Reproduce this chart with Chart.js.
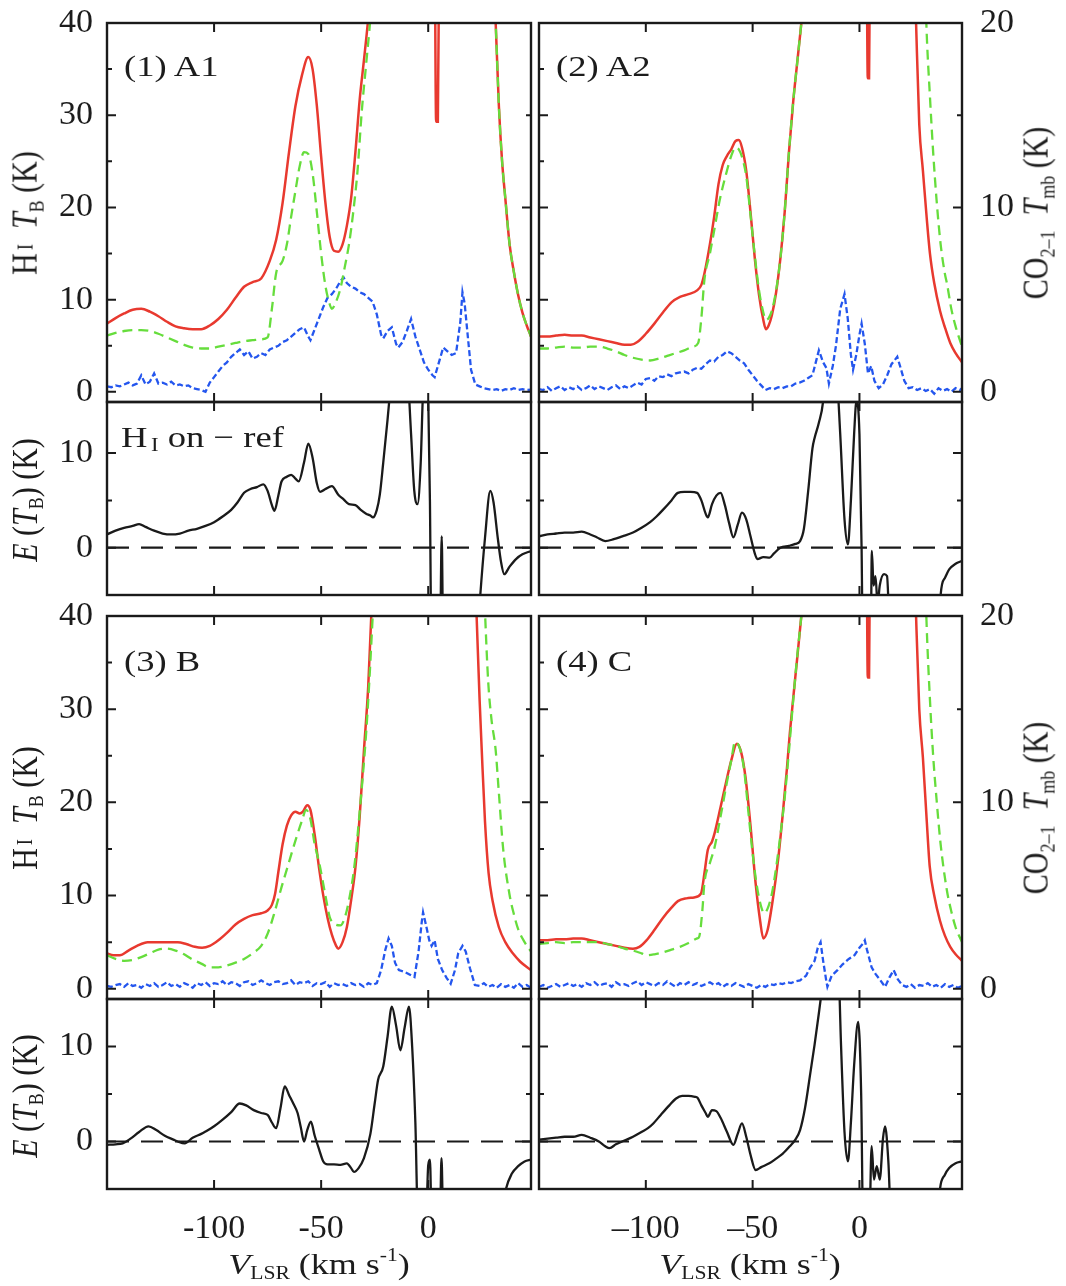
<!DOCTYPE html>
<html>
<head>
<meta charset="utf-8">
<script src="https://cdn.jsdelivr.net/npm/chart.js@4.4.1/dist/chart.umd.min.js"></script>
<style>
body{margin:0;background:#fff;}
#fig{position:relative;width:1066px;height:1286px;overflow:hidden;font-family:"Liberation Serif",serif;color:#1c1c1c;}
canvas{position:absolute;}
.lab{position:absolute;white-space:nowrap;font-size:30px;line-height:1;z-index:2;}
.rot{transform:translate(-50%,-50%) rotate(-90deg) scaleY(1.2);}
.hz{transform:translate(-50%,-50%) scaleX(1.2);}
.tl{transform-origin:left center;transform:translateY(-50%) scaleX(1.22);}
sub{font-size:0.6em;vertical-align:-0.3em;}
sup{font-size:0.6em;vertical-align:0.7em;}
.sc{font-size:0.62em;vertical-align:0.2em;margin-left:3px;}
.sb{font-size:0.62em;vertical-align:-0.2em;margin-left:3px;}
</style>
</head>
<body>
<div id="fig">
  <div class="lab tl" style="left:124px;top:66px">(1) A1</div>
  <div class="lab tl" style="left:556px;top:66px">(2) A2</div>
  <div class="lab tl" style="left:124px;top:661px">(3) B</div>
  <div class="lab tl" style="left:556px;top:661px">(4) C</div>
  <div class="lab tl" style="left:121px;top:438px">H<span class="sb">I</span> on &minus; ref</div>

  <div class="lab rot" style="left:27px;top:213px">H<span class="sc">I</span>&nbsp;&nbsp;<i>T</i><sub>B</sub>&nbsp;(K)</div>
  <div class="lab rot" style="left:27px;top:808px">H<span class="sc">I</span>&nbsp;&nbsp;<i>T</i><sub>B</sub>&nbsp;(K)</div>
  <div class="lab rot" style="left:27px;top:500px"><i>E</i>&nbsp;(<i>T</i><sub>B</sub>)&nbsp;(K)</div>
  <div class="lab rot" style="left:27px;top:1096px"><i>E</i>&nbsp;(<i>T</i><sub>B</sub>)&nbsp;(K)</div>
  <div class="lab rot" style="left:1038px;top:213px">CO<sub>2&ndash;1</sub>&nbsp;&nbsp;<i>T</i><sub>mb</sub>&nbsp;(K)</div>
  <div class="lab rot" style="left:1038px;top:808px">CO<sub>2&ndash;1</sub>&nbsp;&nbsp;<i>T</i><sub>mb</sub>&nbsp;(K)</div>

  <div class="lab hz" style="left:319px;top:1264px"><i>V</i><sub>LSR</sub> (km s<sup>-1</sup>)</div>
  <div class="lab hz" style="left:750px;top:1264px"><i>V</i><sub>LSR</sub> (km s<sup>-1</sup>)</div>
</div>

<script>
/* ============================================================
   AXES
============================================================ */

const velMin=-150, velMax=48;
const velTicks=[-100,-50,0];
const hiTicks=[0,10,20,30,40], hiMinor=[5,15,25,35];
const coTicks=[0,10,20], coMinor=[5,15];
const eTicks=[0,10], eMinor=[5];

/* ============================================================
   (1) A1   [velocity, value]
============================================================ */

const a1Red=[[-150,7.4],[-146,8.0],[-142,8.5],[-138,8.9],[-134,9.0],[-130,8.7],[-126,8.2],[-122,7.6],[-118,7.1],[-114,6.9],
[-110,6.8],[-106,6.8],[-102,7.2],[-98,7.9],[-94,8.9],[-90,10.2],[-86,11.4],[-82,11.9],[-78,12.3],[-74,14.2],
[-71,16.5],[-68,20.5],[-65,26],[-62,31],[-59,34.3],[-56,36.3],[-54,35],[-52,31],[-50,25.5],[-48,20.5],
[-46,16.8],[-44,15.3],[-42,15.2],[-40,16.0],[-38,18],[-36,21],[-34,26],[-32,31.7],[-30,36],[-28,40.5],
[-26,46],[-20,70],[0,90],[2.8,60],[3.7,29.3],[4.5,29.3],[5.5,60],[10,100],[28,60],[30,47],
[31.5,40],[33,31],[34.5,25],[36,21],[38,16],[40,13],[42,10.5],[44,8.6],[46,7.2],[48,6.0]];

const a1Ref=[[-150,6.1],[-146,6.4],[-142,6.6],[-138,6.7],[-134,6.7],[-130,6.6],[-126,6.3],[-122,5.9],[-118,5.5],[-114,5.1],
[-110,4.8],[-106,4.7],[-102,4.7],[-98,4.9],[-94,5.1],[-90,5.3],[-86,5.5],[-82,5.6],[-78,5.7],[-75,5.9],
[-73,9],[-71,12.9],[-68,14.2],[-66,16],[-64,19],[-62,21.8],[-60,24.5],[-58,26],[-56,25.8],[-54,23.7],
[-52,19.5],[-50,15],[-48,11.5],[-46,9.5],[-45,9.0],[-43,9.8],[-41,11.2],[-39,13.5],[-37,16],[-35,19.5],
[-33,24],[-31,30.5],[-29,35.5],[-27,40.5],[-25,47],[-18,75],[0,100],[20,80],[28,55],[30,47],
[31.5,40],[33,31],[34.5,25],[36,21],[38,16],[40,13],[42,10.5],[44,8.6],[46,7.2],[48,6.0]];

const a1CO=[[-150,0.3],[-148,0.25],[-146,0.35],[-144,0.3],[-142,0.4],[-140,0.5],[-138,0.35],[-136,0.45],[-134,0.9],[-132,0.4],
[-130,0.55],[-128,1.0],[-126,0.45],[-124,0.5],[-122,0.4],[-120,0.55],[-118,0.35],[-116,0.4],[-114,0.3],[-112,0.35],
[-110,0.2],[-108,0.15],[-106,0.1],[-104,0.0],[-102,0.5],[-100,0.8],[-98,1.1],[-96,1.4],[-94,1.6],[-92,1.9],
[-90,2.1],[-88,2.3],[-86,2.0],[-84,2.2],[-82,1.8],[-80,1.9],[-78,2.1],[-76,2.0],[-74,2.3],[-72,2.4],
[-70,2.5],[-68,2.7],[-66,2.8],[-64,3.0],[-62,3.2],[-60,3.4],[-58,3.5],[-56,3.0],[-55,2.8],[-53,3.4],
[-51,4.0],[-49,4.6],[-47,5.1],[-45,5.3],[-43,5.6],[-41,6.0],[-39.5,6.2],[-38,5.9],[-36,5.7],[-34,5.6],
[-32,5.4],[-30,5.3],[-28,5.1],[-26,4.9],[-24,4.2],[-22,3.1],[-21,2.9],[-19,3.3],[-17,3.5],[-15,2.6],
[-14,2.4],[-12,2.7],[-10,3.3],[-8,3.95],[-6,3.0],[-4,2.3],[-2,1.6],[0,1.2],[2,0.9],[3,0.8],
[5,1.6],[7,2.4],[9,2.2],[11,2.0],[13,2.1],[15,3.8],[16,5.4],[17,4.8],[18.5,3.0],[20,1.2],
[22,0.4],[24,0.3],[26,0.2],[28,0.15],[30,0.1],[32,0.15],[34,0.05],[36,0.15],[38,0.1],[40,0.2],
[42,0.1],[44,0.15],[46,0.1],[48,0.12]];

const a1Diff=[[-150,1.4],[-146,1.8],[-142,2.1],[-138,2.3],[-135,2.5],[-132,2.2],[-128,1.8],[-124,1.5],[-120,1.4],[-116,1.5],
[-112,1.8],[-108,2.0],[-104,2.3],[-100,2.7],[-96,3.3],[-92,4.0],[-89,4.8],[-86,5.8],[-83,6.2],[-80,6.4],
[-77,6.7],[-75,6.0],[-73,4.5],[-71.8,3.9],[-70,5.5],[-68.5,7.0],[-66,7.5],[-64,7.7],[-62,7.3],[-60.5,7.0],
[-58,9.0],[-56,11.0],[-54,9.5],[-52,6.8],[-50.5,5.9],[-48,6.2],[-45,6.5],[-42,5.6],[-39.5,5.1],[-37,4.6],
[-34,4.5],[-31.5,4.0],[-29,3.6],[-27,3.4],[-25.8,3.2],[-24,4.0],[-22.6,5.6],[-21,9],[-19,13.5],[-18,16],
[-14,25],[-10,20],[-8,12],[-6.5,6],[-5,4.6],[-3.5,9],[-2.5,16],[-1,20],[0,16],[0.8,5],
[1.5,-10],[5.5,-10],[6.3,1.2],[7,-10],[20,-20],[24,-6],[26.5,1],[29,6.0],[30.5,4.8],[32.5,1],
[34,-1.5],[35.5,-2.8],[38,-2.0],[41,-1.2],[44,-0.7],[48,-0.35]];

/* ============================================================
   (2) A2
============================================================ */

const a2Red=[[-150,6.0],[-146,6.0],[-142,6.1],[-138,6.2],[-134,6.1],[-130,6.1],[-126,5.9],[-122,5.7],[-118,5.5],[-114,5.3],
[-110,5.1],[-107,5.1],[-104,5.4],[-100,6.3],[-96,7.4],[-92,8.6],[-88,9.7],[-84,10.3],[-80,10.6],[-76,11.0],
[-74,11.6],[-72.6,12.8],[-70,16],[-68,19],[-66,22.5],[-64,24.6],[-62,25.6],[-60,26.3],[-58,27.2],[-56.5,27.3],
[-55,26.5],[-53,24],[-51,19.5],[-49,14.5],[-47,10.5],[-45,7.8],[-43.8,6.8],[-42.5,7.2],[-41,8.3],[-39,10.8],
[-37,14.5],[-35,19.5],[-33,26],[-31,31.5],[-29,36],[-27,40.5],[-25,46],[-18,70],[0,95],[3.1,60],
[3.9,34],[4.5,34],[5.3,60],[10,100],[24,60],[26.5,40],[28,29],[29.7,24],[31.5,18.8],[33,15],
[35,11.8],[37.7,8.8],[40,7.0],[42.5,5.3],[45,4.2],[48,3.2]];

const a2Ref=[[-150,4.7],[-146,4.7],[-142,4.8],[-138,4.9],[-134,4.8],[-130,4.8],[-126,4.9],[-122,4.9],[-118,4.7],[-114,4.4],
[-110,4.0],[-106,3.7],[-102,3.5],[-98,3.4],[-94,3.6],[-90,3.9],[-86,4.2],[-82,4.5],[-78,4.9],[-75.5,5.3],
[-74,8],[-72.6,12.1],[-70,15],[-68,17.5],[-65.4,20.8],[-62,24],[-60,25.6],[-58,26.5],[-56.5,26.3],[-55,25.5],
[-53,23.4],[-51,19.2],[-49,14.8],[-47,11.0],[-45,8.6],[-43.8,7.8],[-42.5,8.0],[-41,8.8],[-39,11],[-37,14.5],
[-35,19.5],[-33,26],[-31,31.5],[-29,36],[-27,40.5],[-25,46],[-18,70],[0,100],[20,90],[29,60],
[31.3,40],[33,32],[34.5,26],[36.1,20.8],[38,16],[40,12.8],[41,11.7],[43,9],[45,7.1],[48,4.9]];

const a2CO=[[-150,0.15],[-148,0.1],[-146,0.25],[-144,0.05],[-142,0.2],[-140,0.3],[-138,0.1],[-136,0.25],[-134,0.15],[-132,0.3],
[-130,0.1],[-128,0.2],[-126,0.35],[-124,0.15],[-122,0.3],[-120,0.2],[-118,0.1],[-116,0.25],[-114,0.35],[-112,0.15],
[-110,0.3],[-108,0.2],[-106,0.35],[-104,0.5],[-102,0.4],[-100,0.7],[-98,0.75],[-96,0.6],[-94,0.85],[-92,0.8],
[-90,0.95],[-88,0.85],[-86,1.0],[-84,1.05],[-82,1.1],[-80,1.0],[-78,1.2],[-76,1.3],[-74,1.25],[-72,1.5],
[-70,1.7],[-68,1.65],[-66,1.9],[-64,2.0],[-62,2.2],[-60,2.1],[-58,1.9],[-56,1.7],[-54,1.55],[-52,1.2],
[-50,0.9],[-48,0.6],[-46,0.35],[-44,0.1],[-42,0.2],[-40,0.15],[-38,0.25],[-36,0.2],[-34,0.3],[-32,0.3],
[-30,0.45],[-28,0.5],[-26,0.6],[-24,0.75],[-22,0.9],[-20,1.8],[-19,2.25],[-17,1.6],[-15.5,1.3],[-14.3,0.45],
[-12.5,1.4],[-11,2.5],[-9,4.5],[-7,5.3],[-5.5,4.0],[-4,2.0],[-3,1.2],[-1.5,2.0],[0,3.1],[1,3.7],
[2.5,2.6],[4,1.0],[5.5,1.4],[7,0.6],[9,0.2],[11,0.4],[13,0.9],[15,1.5],[17.7,1.9],[19,1.4],
[21,0.6],[23,0.2],[25,0.25],[27,0.1],[29,0.2],[31,0.05],[33,0.15],[35,-0.1],[37,0.2],[39,0.05],
[41,0.15],[43,0.0],[45,0.2],[47,0.1],[48,0.2]];

const a2Diff=[[-150,1.2],[-146,1.4],[-142,1.5],[-138,1.6],[-134,1.6],[-130,1.7],[-126,1.4],[-123,1.1],[-119,0.7],[-115,0.9],
[-111,1.2],[-106,1.6],[-102,2.1],[-98,2.7],[-95,3.3],[-92,4.0],[-88,5.0],[-85,5.8],[-82,5.9],[-79,5.9],
[-76,5.8],[-74,5.0],[-72,3.6],[-71,3.2],[-69,4.6],[-67,5.5],[-65,5.8],[-63,4.5],[-61,2.6],[-59,1.1],
[-57,2.4],[-55,3.7],[-53,3.0],[-51,1.2],[-49,-0.6],[-47.8,-1.2],[-45,-1.0],[-42,-1.05],[-40,-0.6],[-37,0.0],
[-33,0.2],[-30,0.4],[-27.8,0.7],[-26,2.0],[-24,6.0],[-22,10.5],[-21,11.6],[-19,13.2],[-17,15.5],[-14,25],
[-11,20],[-9,12],[-7,3],[-5.4,0.35],[-4,5],[-2.5,12],[-1.4,15.5],[0,12],[1,0],[2,-20],
[5,-20],[5.8,-0.35],[6.6,-4],[7.5,-3],[8.5,-6],[9.5,-4],[11.5,-2.8],[12.9,-3.0],[14,-8],[20,-20],
[36,-20],[38,-5],[40,-3.2],[42,-2.3],[45,-1.7],[48,-1.4]];

/* ============================================================
   (3) B
============================================================ */

const bRed=[[-150,3.8],[-147,3.6],[-144,3.6],[-140,4.1],[-136,4.6],[-131,5.0],[-127,5.0],[-122,5.0],[-117,5.0],[-113,4.8],
[-109,4.5],[-105.6,4.4],[-102,4.6],[-98,5.2],[-94,6.0],[-90,6.9],[-86,7.5],[-82,7.9],[-78,8.1],[-75,8.4],
[-73,9.0],[-71.5,10.2],[-70,12.5],[-68,15.5],[-66,17.5],[-64,18.6],[-62,19.0],[-60,18.8],[-58.5,19.0],[-56.5,19.7],
[-55,19.2],[-53,16.5],[-51,13],[-49,10],[-47,7.6],[-45,5.8],[-43,4.6],[-42,4.3],[-40,5.0],[-38,6.6],
[-36,9.5],[-34,13],[-32,18.5],[-30,25.6],[-28,32.5],[-26.5,40.5],[-25,47],[-15,80],[0,100],[15,80],
[21,50],[22.6,40],[24,31],[25,25.6],[26.5,18],[28.2,12.4],[30,9.5],[33,6.6],[36,5.0],[39.5,3.8],
[43,2.9],[48,2.0]];

const bRef=[[-150,3.6],[-146,3.2],[-142,3.0],[-138,3.1],[-134,3.4],[-130,3.8],[-126,4.2],[-122,4.3],[-118,4.1],[-114,3.7],
[-110.5,3.2],[-106,2.7],[-102,2.3],[-98,2.3],[-94,2.5],[-90,2.8],[-86,3.2],[-82,3.8],[-78,4.6],[-75,5.9],
[-72,8],[-68.5,10.9],[-65,13.6],[-62,15.9],[-59,18],[-57,19.2],[-55,18.2],[-53,15.5],[-50.8,13.4],[-48,10],
[-46,7.7],[-44,7.0],[-41,6.8],[-39,7.6],[-37,9.5],[-34.5,13.1],[-32,19],[-29,27.4],[-27.5,33],[-25.8,40.5],
[-24,48],[-15,80],[0,100],[20,80],[25,50],[26.6,40],[28,33],[29.5,29],[31.5,25.6],[33,21],
[35,15],[37.9,10.2],[40,8],[42,6.4],[45,5.0],[48,4.0]];

const bCO=[[-150,0.15],[-148,0.1],[-146,0.2],[-144,0.25],[-142,0.1],[-140,0.3],[-138,0.15],[-136,0.2],[-134,0.05],[-132,0.25],
[-130,0.15],[-128,0.3],[-126,0.1],[-124,0.2],[-122,0.35],[-120,0.15],[-118,0.25],[-116,0.1],[-114,0.3],[-112,0.2],
[-110,0.05],[-108,0.3],[-106,0.2],[-104,0.35],[-102,0.15],[-100,0.3],[-98,0.25],[-96,0.4],[-94,0.2],[-92,0.35],
[-90,0.3],[-88,0.15],[-86,0.35],[-84,0.4],[-82,0.2],[-80,0.3],[-78,0.45],[-76,0.3],[-74,0.2],[-72,0.35],
[-70,0.4],[-68,0.25],[-66,0.3],[-64,0.45],[-62,0.2],[-60,0.35],[-58,0.3],[-56,0.4],[-54,0.15],[-52,0.3],
[-50,0.25],[-48,0.35],[-46,0.1],[-44,0.3],[-42,0.2],[-40,0.25],[-38,0.15],[-36,0.3],[-34,0.2],[-32,0.25],
[-30,0.1],[-28,0.3],[-26,0.2],[-24,0.3],[-22,1.0],[-20,2.1],[-18.5,2.7],[-17,2.3],[-15.5,1.4],[-13.7,1.0],
[-11,0.9],[-8.5,0.75],[-6.4,0.63],[-4.5,2.0],[-3,3.6],[-2.4,4.1],[-1,3.4],[0.5,2.6],[1.6,2.3],[3,2.6],
[4.5,1.6],[6.5,1.0],[8.5,0.6],[10.5,0.27],[12.5,1.0],[14,1.9],[16,2.3],[17.5,2.0],[19.5,1.1],[21.8,0.2],
[24,0.15],[26,0.3],[28,0.1],[30,0.2],[32,0.05],[34,0.25],[36,0.1],[38,0.2],[40,0.05],[42,0.3],
[44,0.1],[46,0.2],[48,0.05]];

const bDiff=[[-150,-0.35],[-146,-0.3],[-142.7,-0.2],[-139,0.3],[-135,1.0],[-130.6,1.6],[-127,1.2],[-123,0.6],[-119,0.2],[-117,0.0],
[-113.7,-0.2],[-110,0.4],[-106,0.8],[-104,1.05],[-100,1.6],[-96,2.3],[-92,3.1],[-88,4.0],[-85,3.8],[-81.5,3.3],
[-78,3.0],[-75,2.8],[-73,2.0],[-71,1.4],[-69,3.5],[-67,5.8],[-65,4.9],[-63,4.0],[-61,3.0],[-59.5,1.5],
[-58,0.0],[-56.5,1.2],[-54.8,2.1],[-53,0.6],[-51,-0.8],[-49,-2.1],[-47,-2.4],[-44,-2.4],[-41,-2.45],[-38,-2.3],
[-36,-2.8],[-34.7,-3.2],[-32.5,-2.8],[-30,-1.75],[-27,0.8],[-25,4.0],[-23.4,6.5],[-21,7.9],[-19,11],[-17,14.2],
[-15,12.2],[-13,9.6],[-11,12],[-9,14.2],[-7.5,10],[-6,2],[-4.8,-8],[-1,-8],[0,-2.5],[0.8,-1.9],
[1.6,-8],[5.5,-8],[6.2,-1.75],[7,-8],[34,-8],[36.3,-5],[39,-3.4],[42,-2.6],[45,-2.1],[48,-1.9]];

/* ============================================================
   (4) C
============================================================ */

const cRed=[[-150,5.2],[-146,5.2],[-142,5.3],[-138,5.3],[-134,5.4],[-130,5.4],[-126,5.2],[-122,5.0],[-118,4.8],[-114,4.6],
[-110,4.4],[-106,4.3],[-103,4.5],[-99.7,5.2],[-96,6.3],[-92,7.6],[-88,8.7],[-85,9.4],[-81,9.7],[-77.4,9.8],
[-74.2,10.2],[-72.5,12.5],[-71,14.9],[-69,15.8],[-67.8,16.7],[-65,19.5],[-62.2,22.4],[-60,24.5],[-57.4,26.3],[-55.5,25.5],
[-53.4,22.8],[-51,17.5],[-48.6,11.3],[-46.5,7.3],[-45,5.4],[-43,6.3],[-40.6,9.5],[-38,14],[-36,18.5],[-34,23.5],
[-32.6,27.4],[-30,33.5],[-27,40.5],[-25,46],[-18,70],[0,95],[3.1,60],[3.9,33.4],[4.5,33.4],[5.3,60],
[10,100],[24,60],[26.5,40],[28,30],[29.7,24.8],[31.5,18],[32.9,13.1],[35,10],[37.7,7.3],[40,5.7],
[42.5,4.5],[45,3.7],[48,3.0]];

const cRef=[[-150,4.8],[-146,4.9],[-142,5.0],[-138,4.9],[-134,5.0],[-130,5.0],[-126,5.0],[-122,5.0],[-118,4.8],[-114,4.6],
[-110,4.3],[-106,4.1],[-102,3.8],[-99.7,3.6],[-96,3.7],[-92,3.9],[-88,4.2],[-84,4.5],[-80,4.9],[-76,5.4],
[-75,5.6],[-73.5,8.5],[-72.6,11.3],[-70,13.5],[-67.8,15.2],[-65,18.5],[-62,22.2],[-60,24.5],[-58.2,26.5],[-56,25.8],
[-54,23.5],[-52,19],[-50,14.5],[-48,11],[-46,8.8],[-44.6,8.1],[-43,8.6],[-41,10.2],[-39,13],[-37,16.5],
[-35,20.5],[-33,25.5],[-31,31],[-29,36],[-27,40.5],[-25,46],[-18,70],[0,100],[20,90],[29,60],
[31.3,40],[33,31],[34.5,25],[36.1,20.3],[38,15.5],[40.9,10.6],[43,8.3],[45,6.6],[48,5.0]];

const cCO=[[-150,0.1],[-148,0.2],[-146,0.05],[-144,0.15],[-142,0.25],[-140,0.1],[-138,0.2],[-136,0.3],[-134,0.15],[-132,0.25],
[-130,0.1],[-128,0.3],[-126,0.2],[-124,0.35],[-122,0.15],[-120,0.25],[-118,0.3],[-116,0.1],[-114,0.35],[-112,0.2],
[-110,0.25],[-108,0.15],[-106,0.3],[-104,0.4],[-102,0.2],[-100,0.35],[-98,0.25],[-96,0.15],[-94,0.3],[-92,0.2],
[-90,0.4],[-88,0.25],[-86,0.1],[-84,0.3],[-82,0.2],[-80,0.35],[-78,0.2],[-76,0.3],[-74,0.15],[-72,0.25],
[-70,0.35],[-68,0.2],[-66,0.3],[-64,0.1],[-62,0.25],[-60,0.15],[-58,0.3],[-56,0.2],[-54,0.1],[-52,0.25],
[-50,0.15],[-48,0.05],[-46,0.2],[-44,0.1],[-42,0.25],[-40,0.2],[-38,0.3],[-36,0.25],[-34,0.35],[-32,0.3],
[-30,0.4],[-27.8,0.45],[-25,0.7],[-23,1.15],[-21,1.5],[-19.5,2.2],[-18.2,2.5],[-17,1.5],[-15.5,0.4],[-15,0.1],
[-13,0.7],[-10.3,1.0],[-8,1.3],[-5,1.6],[-2.3,1.8],[0,2.2],[1.5,2.4],[2.5,2.6],[3.5,2.1],[5.7,1.15],
[7.5,0.8],[9.5,0.5],[12,0.1],[14,0.6],[16,1.0],[18,0.5],[20,0.2],[22,0.1],[24,0.25],[26,0.05],
[28,0.2],[30,0.15],[32,0.3],[34,0.1],[36,0.2],[38,0.05],[40,0.25],[42,0.1],[44,0.2],[46,0.05],[48,0.15]];

const cDiff=[[-150,0.2],[-146,0.3],[-142,0.4],[-138,0.5],[-134,0.5],[-130,0.7],[-126,0.4],[-122,0.0],[-119,-0.5],[-117,-0.7],
[-114,-0.3],[-110,0.1],[-106,0.5],[-102,1.0],[-99,1.4],[-96.5,1.9],[-93,2.8],[-89,3.8],[-86,4.5],[-83,4.8],
[-80,4.8],[-77,4.7],[-75.8,4.6],[-74,3.8],[-72,3.0],[-71,2.6],[-69,3.3],[-67,3.2],[-65,2.5],[-62,1.0],
[-59,-0.35],[-57,0.8],[-55,1.9],[-53,0.5],[-51,-1.4],[-48.6,-3.0],[-46,-2.7],[-42.2,-2.3],[-39,-1.8],[-36,-1.3],
[-32.6,-0.5],[-30,0.2],[-27.8,1.2],[-25.5,3.5],[-23,7.2],[-21,10.2],[-19,13.5],[-17,17],[-13,25],[-10,20],
[-8.6,10],[-7,1],[-5.4,-2.1],[-4,2],[-2.5,8],[-0.6,12.6],[0.8,5],[1.8,-10],[4.5,-10],[5.7,-0.5],
[6.8,-4],[8.1,-2.6],[9.5,-4],[11,0.3],[12,1.6],[13.5,-2],[15.2,-10],[36,-10],[37.7,-5],[40,-3.5],
[42,-2.8],[45,-2.3],[48,-2.1]];

const zeroLine=[[velMin,0],[velMax,0]];

/* ============================================================
   ESTILS
============================================================ */

const RED="#e8392f", GREEN="#66dd3c", BLUE="#2456ee", INK="#1a1a1a";

Chart.defaults.font.family="'Liberation Serif', serif";

const fig=document.getElementById("fig");

function pts(arr){
    return arr.map(p=>({x:p[0],y:p[1]}));
}

// frame + inward tick marks on all four sides
const frameTicks={
    id:"frameTicks",
    afterDatasetsDraw(chart,args,o){
        const {ctx,chartArea:a}=chart;
        const sx=chart.scales.x, sy=chart.scales.y, sy2=chart.scales.y2;
        ctx.save();
        ctx.strokeStyle=INK;
        ctx.lineWidth=2;
        ctx.beginPath();
        const seg=(x0,y0,x1,y1)=>{ctx.moveTo(x0,y0);ctx.lineTo(x1,y1);};
        velTicks.forEach(v=>{
            const p=sx.getPixelForValue(v);
            seg(p,a.top,p,a.top+9);
            seg(p,a.bottom,p,a.bottom-9);
        });
        o.yMajor.forEach(v=>{const p=sy.getPixelForValue(v);seg(a.left,p,a.left+9,p);});
        o.yMinor.forEach(v=>{const p=sy.getPixelForValue(v);seg(a.left,p,a.left+5,p);});
        o.rMajor.forEach(v=>{const p=sy2.getPixelForValue(v);seg(a.right,p,a.right-9,p);});
        o.rMinor.forEach(v=>{const p=sy2.getPixelForValue(v);seg(a.right,p,a.right-5,p);});
        ctx.stroke();
        ctx.lineWidth=2.4;
        ctx.strokeRect(a.left,a.top,a.right-a.left,a.bottom-a.top);
        ctx.restore();
    }
};

/* ============================================================
   PANELLS
============================================================ */

function makePanel(plot,sets,o){
    const [x0,y0,x1,y1]=plot;
    const left=o.leftLabels?0:x0-40;
    const right=o.rightLabels?1066:x1+40;
    const top=y0-40;
    const bottom=o.bottomLabels?1286:y1+40;

    const cv=document.createElement("canvas");
    cv.width=right-left;
    cv.height=bottom-top;
    cv.style.left=left+"px";
    cv.style.top=top+"px";
    fig.appendChild(cv);

    const tickFont={family:"'Liberation Serif', serif",size:34};
    const dash=o.rightCanvas?"\u2013":"-";

    new Chart(cv,{
        type:"line",
        data:{datasets:sets},
        options:{
            responsive:false,
            animation:false,
            devicePixelRatio:1,
            events:[],
            layout:{padding:{top:y0-top,left:0,right:0,bottom:0}},
            elements:{point:{radius:0}},
            plugins:{
                legend:{display:false},
                tooltip:{enabled:false},
                frameTicks:o.frame
            },
            scales:{
                x:{
                    type:"linear",min:velMin,max:velMax,
                    afterBuildTicks:s=>{s.ticks=velTicks.map(v=>({value:v}));},
                    afterFit:s=>{s.height=bottom-y1;},
                    ticks:{display:!!o.bottomLabels,padding:12,font:tickFont,color:"#1c1c1c",
                        callback:v=>v<0?dash+Math.abs(v):String(v)},
                    grid:{display:false},
                    border:{display:false}
                },
                y:{
                    position:"left",min:o.yMin,max:o.yMax,
                    afterBuildTicks:s=>{s.ticks=o.yTicks.map(v=>({value:v}));},
                    afterFit:s=>{s.width=x0-left;},
                    ticks:{display:!!o.leftLabels,padding:6,font:tickFont,color:"#1c1c1c"},
                    grid:{display:false},
                    border:{display:false}
                },
                y2:{
                    position:"right",min:o.y2Min,max:o.y2Max,
                    afterBuildTicks:s=>{s.ticks=o.y2Ticks.map(v=>({value:v}));},
                    afterFit:s=>{s.width=right-x1;},
                    ticks:{display:!!o.rightLabels,padding:10,font:tickFont,color:"#1c1c1c"},
                    grid:{display:false},
                    border:{display:false}
                }
            }
        },
        plugins:[frameTicks]
    });
}

function specPanel(plot,red,ref,co,side){
    makePanel(plot,[
        {data:pts(co),yAxisID:"y2",borderColor:BLUE,borderWidth:2.3,borderDash:[6,3],tension:0,clip:0,order:3},
        {data:pts(red),yAxisID:"y",borderColor:RED,borderWidth:2.5,cubicInterpolationMode:"monotone",clip:0,order:2},
        {data:pts(ref),yAxisID:"y",borderColor:GREEN,borderWidth:2.3,borderDash:[10,6],cubicInterpolationMode:"monotone",clip:0,order:1}
    ],{
        leftLabels:side==="L",rightLabels:side==="R",rightCanvas:side==="R",bottomLabels:false,
        yMin:-1.1,yMax:40,yTicks:hiTicks,
        y2Min:-0.55,y2Max:20,y2Ticks:coTicks,
        frame:{yMajor:hiTicks,yMinor:hiMinor,rMajor:coTicks,rMinor:coMinor}
    });
}

function diffPanel(plot,diff,side,lower,yMax){
    makePanel(plot,[
        {data:pts(zeroLine),borderColor:INK,borderWidth:2.2,borderDash:[22,12],tension:0,clip:0,order:2},
        {data:pts(diff),borderColor:INK,borderWidth:2.3,cubicInterpolationMode:"monotone",clip:0,order:1}
    ],{
        leftLabels:side==="L",rightLabels:false,bottomLabels:lower,rightCanvas:side==="R",
        yMin:-5,yMax:yMax,yTicks:eTicks,
        y2Min:-5,y2Max:yMax,y2Ticks:[],
        frame:{yMajor:eTicks,yMinor:eMinor,rMajor:eTicks,rMinor:eMinor}
    });
}

specPanel([107,23,531,402],a1Red,a1Ref,a1CO,"L");
specPanel([539,23,962,402],a2Red,a2Ref,a2CO,"R");
diffPanel([107,402,531,595],a1Diff,"L",false,15.4);
diffPanel([539,402,962,595],a2Diff,"R",false,15.4);
specPanel([107,616,531,999],bRed,bRef,bCO,"L");
specPanel([539,616,962,999],cRed,cRef,cCO,"R");
diffPanel([107,999,531,1189],bDiff,"L",true,15);
diffPanel([539,999,962,1189],cDiff,"R",true,15);
</script>
</body>
</html>
